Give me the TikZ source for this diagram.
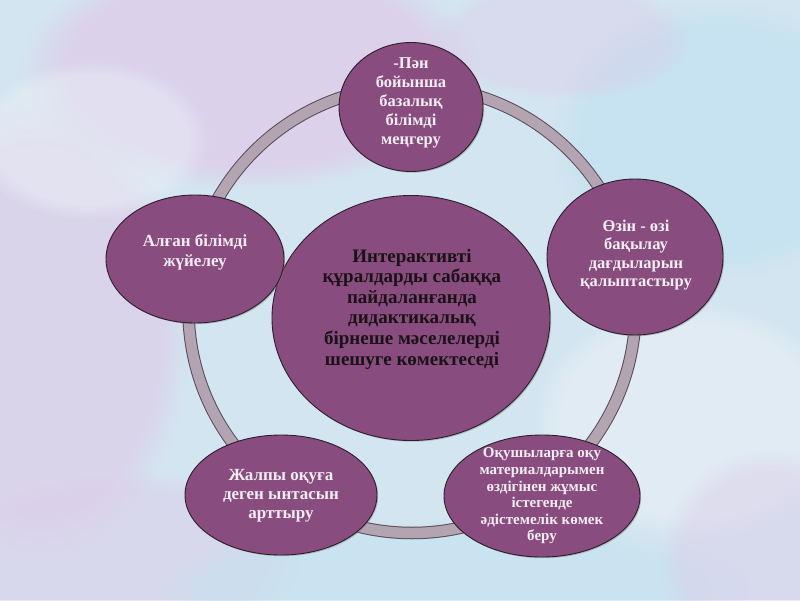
\documentclass[tikz,border=0pt]{standalone}
\usepackage{fontspec}
\setmainfont{Liberation Serif}
\usetikzlibrary{shapes.geometric,shadows,fadings}
\definecolor{bgBase}{HTML}{D3E5F0}
\definecolor{bgPink}{HTML}{DDCDEA}
\definecolor{bgBlue}{HTML}{C4E2F0}
\definecolor{bgWhite}{HTML}{EAF0F6}
\definecolor{ringEdge}{HTML}{5A4A58}
\definecolor{ringFill}{HTML}{B2A4B0}
\definecolor{bubbleFill}{HTML}{884C7F}
\definecolor{bubbleEdge}{HTML}{2E1E2C}
\definecolor{textLight}{HTML}{F4EEF4}
\definecolor{textDark}{HTML}{1A1216}
\begin{document}
\begin{tikzpicture}[x=1pt,y=-1pt,
  bubble/.style={ellipse, draw=bubbleEdge, line width=0.9pt, fill=bubbleFill, inner sep=0pt,
    drop shadow={shadow xshift=1.2pt, shadow yshift=-1.2pt, opacity=0.45}},
  outertext/.style={text=textLight, align=center, inner sep=0pt},
  centertext/.style={text=textDark, align=center, inner sep=0pt,
    font=\bfseries\fontsize{19}{20.6}\selectfont},
  haze/.style={path fading=circle with fuzzy edge 20 percent}]
\useasboundingbox (0,0) rectangle (800,600);
% background
\begin{scope}
\clip (0,0) rectangle (800,600);
\fill[bgBase] (0,0) rectangle (800,600);
\fill[bgPink, haze, fill opacity=0.8] (250,70) ellipse (230 and 120);
\fill[bgPink, haze, fill opacity=0.7] (40,330) ellipse (150 and 230);
\fill[bgPink, haze, fill opacity=0.5] (120,560) ellipse (180 and 90);
\fill[bgBlue, haze, fill opacity=0.8] (720,140) ellipse (170 and 140);
\fill[bgBlue, haze, fill opacity=0.6] (450,590) ellipse (300 and 70);
\fill[bgWhite, haze, fill opacity=0.6] (690,420) ellipse (160 and 120);
\fill[bgPink, haze, fill opacity=0.45] (770,560) ellipse (110 and 110);
\fill[bgWhite, haze, fill opacity=0.5] (90,140) ellipse (120 and 80);
\fill[bgPink, haze, fill opacity=0.4] (560,40) ellipse (130 and 60);
\end{scope}
% ring
\coordinate (ringc) at (412,309.5);
\draw[ringEdge, line width=12.5pt] (ringc) circle (223.5);
\draw[ringFill, line width=10.5pt] (ringc) circle (223.5);
% central circle
\node[bubble, minimum width=278pt, minimum height=245pt] (c) at (411,318) {};
\node[centertext] (ct) at (412,309) {Интерактивті\\құралдарды сабаққа\\пайдаланғанда\\дидактикалық\\бірнеше мәселелерді\\шешуге көмектеседі};
% outer bubbles
\node[bubble, minimum width=144pt, minimum height=129pt] (n1) at (411,107) {};
\node[outertext, font=\bfseries\fontsize{16.5}{19}\selectfont] (t1) at (411,103) {-Пән\\бойынша\\базалық\\білімді\\меңгеру};
\node[bubble, minimum width=176pt, minimum height=156pt] (n2) at (635,257) {};
\node[outertext, font=\bfseries\fontsize{16.5}{18.5}\selectfont] (t2) at (636,255) {Өзін - өзі\\бақылау\\дағдыларын\\қалыптастыру};
\node[bubble, minimum width=196pt, minimum height=122pt] (n3) at (542,496) {};
\node[outertext, font=\bfseries\fontsize{15}{16.6}\selectfont] (t3) at (542,496) {Оқушыларға оқу\\материалдарымен\\өздігінен жұмыс\\істегенде\\әдістемелік көмек\\беру};
\node[bubble, minimum width=192pt, minimum height=120pt] (n4) at (281,495) {};
\node[outertext, font=\bfseries\fontsize{17}{19}\selectfont] (t4) at (281,496) {Жалпы оқуға\\деген ынтасын\\арттыру};
\node[bubble, minimum width=178pt, minimum height=128pt] (n5) at (195,259) {};
\node[outertext, font=\bfseries\fontsize{17}{19.5}\selectfont] (t5) at (195,252) {Алған білімді\\жүйелеу};
\end{tikzpicture}
\end{document}
